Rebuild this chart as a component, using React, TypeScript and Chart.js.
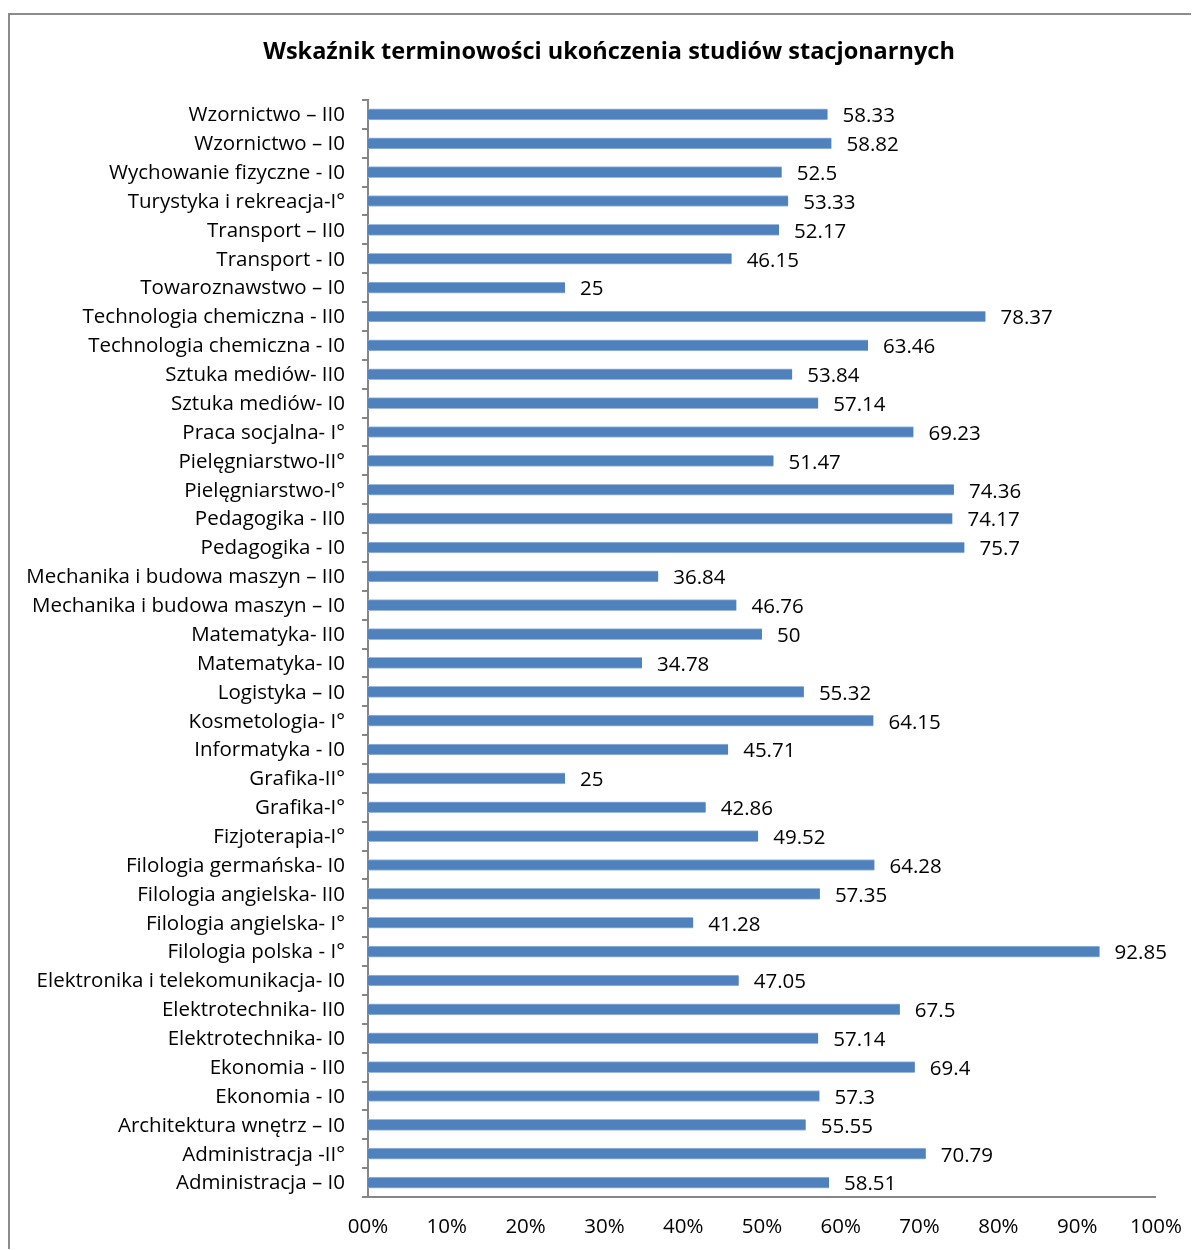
import React, { useEffect, useRef } from "react";
import { Chart, registerables } from "chart.js";

Chart.register(...registerables);

const TITLE = "Wskaźnik terminowości ukończenia studiów stacjonarnych";

const categories: string[] = [
  "Wzornictwo – II0",
  "Wzornictwo – I0",
  "Wychowanie fizyczne - I0",
  "Turystyka i rekreacja-I°",
  "Transport – II0",
  "Transport - I0",
  "Towaroznawstwo – I0",
  "Technologia chemiczna - II0",
  "Technologia chemiczna - I0",
  "Sztuka mediów- II0",
  "Sztuka mediów- I0",
  "Praca socjalna- I°",
  "Pielęgniarstwo-II°",
  "Pielęgniarstwo-I°",
  "Pedagogika - II0",
  "Pedagogika - I0",
  "Mechanika i budowa maszyn – II0",
  "Mechanika i budowa maszyn – I0",
  "Matematyka- II0",
  "Matematyka- I0",
  "Logistyka – I0",
  "Kosmetologia- I°",
  "Informatyka - I0",
  "Grafika-II°",
  "Grafika-I°",
  "Fizjoterapia-I°",
  "Filologia germańska- I0",
  "Filologia angielska- II0",
  "Filologia angielska- I°",
  "Filologia polska - I°",
  "Elektronika i telekomunikacja- I0",
  "Elektrotechnika- II0",
  "Elektrotechnika- I0",
  "Ekonomia - II0",
  "Ekonomia - I0",
  "Architektura wnętrz – I0",
  "Administracja -II°",
  "Administracja – I0",
];

const values: number[] = [
  58.33, 58.82, 52.5, 53.33, 52.17, 46.15, 25, 78.37, 63.46, 53.84, 57.14,
  69.23, 51.47, 74.36, 74.17, 75.7, 36.84, 46.76, 50, 34.78, 55.32, 64.15,
  45.71, 25, 42.86, 49.52, 64.28, 57.35, 41.28, 92.85, 47.05, 67.5, 57.14,
  69.4, 57.3, 55.55, 70.79, 58.51,
];

const valueLabels: string[] = [
  "58.33", "58.82", "52.5", "53.33", "52.17", "46.15", "25", "78.37", "63.46",
  "53.84", "57.14", "69.23", "51.47", "74.36", "74.17", "75.7", "36.84",
  "46.76", "50", "34.78", "55.32", "64.15", "45.71", "25", "42.86", "49.52",
  "64.28", "57.35", "41.28", "92.85", "47.05", "67.5", "57.14", "69.4",
  "57.3", "55.55", "70.79", "58.51",
];

const xTickLabels: string[] = [
  "00%", "10%", "20%", "30%", "40%", "50%", "60%", "70%", "80%", "90%", "100%",
];

const FONT = "'Open Sans'";
const BAR_COLOR = "#4F81BD";
const BAR_EDGE = "#9DB9DC";
const AXIS_COLOR = "#868686";

const valueLabelPlugin = {
  id: "valueLabels",
  afterDatasetsDraw(chart: any) {
    const ctx = chart.ctx;
    const meta = chart.getDatasetMeta(0);
    ctx.save();
    ctx.font = `20.5px ${FONT}`;
    ctx.fillStyle = "#000";
    ctx.textAlign = "left";
    ctx.textBaseline = "middle";
    meta.data.forEach((bar: any, i: number) => {
      ctx.fillText(valueLabels[i], bar.x + 15, bar.y + 2);
    });
    ctx.restore();
  },
};

const titlePlugin = {
  id: "frameTitle",
  afterDraw(chart: any) {
    const ctx = chart.ctx;
    ctx.save();
    ctx.font = `bold 23.5px ${FONT}`;
    ctx.fillStyle = "#000";
    ctx.textAlign = "center";
    ctx.textBaseline = "middle";
    ctx.fillText(TITLE, chart.width / 2 + 4, 37);
    ctx.restore();
  },
};

export default function App() {
  const canvasRef = useRef<HTMLCanvasElement | null>(null);

  useEffect(() => {
    if (!canvasRef.current) return;
    const chart = new Chart(canvasRef.current, {
      type: "bar",
      data: {
        labels: categories,
        datasets: [
          {
            data: values,
            backgroundColor: BAR_COLOR,
            borderColor: BAR_EDGE,
            borderWidth: { top: 1, bottom: 1, left: 0, right: 0 },
            borderSkipped: false,
            barThickness: 11,
          },
        ],
      },
      options: {
        indexAxis: "y",
        responsive: false,
        animation: false,
        layout: { padding: { left: 0, right: 44, top: 85, bottom: 0 } },
        plugins: {
          legend: { display: false },
          tooltip: { enabled: false },
          title: { display: false },
        },
        scales: {
          x: {
            min: 0,
            max: 100,
            afterFit(scale: any) {
              scale.height = 54;
            },
            afterBuildTicks(scale: any) {
              scale.ticks = xTickLabels.map((_, i) => ({ value: i * 10 }));
            },
            ticks: {
              color: "#000",
              font: { family: FONT, size: 20.5 },
              padding: 18,
              callback: (_v: any, i: number) => xTickLabels[i],
            },
            grid: { display: false, drawTicks: false },
            border: { display: true, color: AXIS_COLOR, width: 2 },
          },
          y: {
            afterFit(scale: any) {
              scale.width = 358;
            },
            ticks: {
              color: "#000",
              font: { family: FONT, size: 20.5 },
              padding: 17,
              autoSkip: false,
              labelOffset: 1,
            },
            grid: {
              display: true,
              drawOnChartArea: false,
              drawTicks: true,
              tickLength: 6,
              color: AXIS_COLOR,
              lineWidth: 2,
              offset: true,
            },
            border: { display: true, color: AXIS_COLOR, width: 2 },
          },
        },
      },
      plugins: [valueLabelPlugin, titlePlugin],
    });
    return () => chart.destroy();
  }, []);

  return (
    <div
      style={{
        marginTop: 5,
        borderTop: "2px solid #8c8c8c",
        borderLeft: "2px solid #8c8c8c",
        width: 1189,
        height: 1236,
        boxSizing: "border-box",
        overflow: "hidden",
      }}
    >
      <canvas ref={canvasRef} width={1190} height={1236} style={{ display: "block" }} />
    </div>
  );
}
